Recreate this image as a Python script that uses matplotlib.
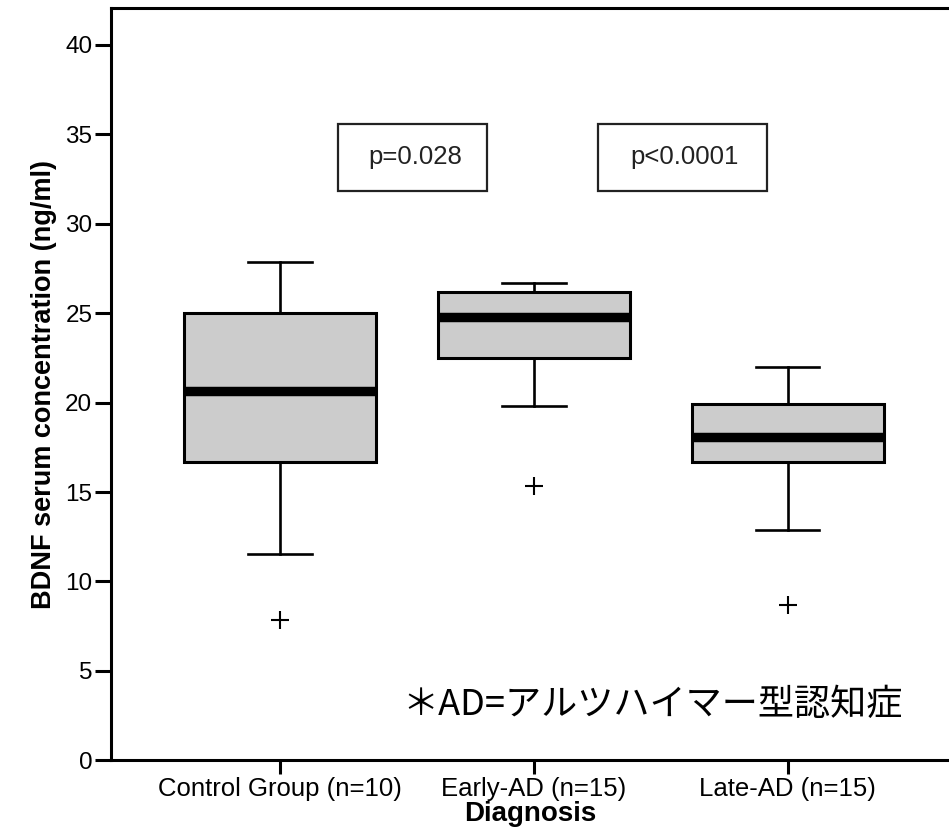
import matplotlib
matplotlib.use("Agg")
import matplotlib.pyplot as plt
from matplotlib.patches import Rectangle

plt.rcParams['font.family'] = ['Liberation Sans', 'DejaVu Sans']

# summary stats (ng/ml)
groups = ["Control Group (n=10)", "Early-AD (n=15)", "Late-AD (n=15)"]
whislo = [11.55, 19.8, 12.9]
q1 = [16.7, 22.5, 16.7]
med = [20.65, 24.8, 18.1]
q3 = [25.0, 26.2, 19.9]
whishi = [27.85, 26.7, 22.0]
fliers = [[7.85], [15.35], [8.7]]

p_labels = ["p=0.028", "p<0.0001"]
note = "＊AD=アルツハイマー型認知症"

stats = []
for i in range(len(groups)):
    stats.append(dict(label=groups[i], whislo=whislo[i], q1=q1[i], med=med[i],
                      q3=q3[i], whishi=whishi[i], fliers=fliers[i]))

fig = plt.figure(figsize=(9.49, 8.32), dpi=100)
ax = fig.add_axes([0.117, 0.086, 0.883, 0.9045])

pos = [1, 2, 3]
ax.bxp(stats, positions=pos, widths=0.756, capwidths=0.25, patch_artist=True,
       boxprops=dict(facecolor="#cccccc", edgecolor="black", linewidth=2.2),
       medianprops=dict(color="black", linewidth=6.8, solid_capstyle="butt"),
       whiskerprops=dict(color="black", linewidth=1.9),
       capprops=dict(color="black", linewidth=1.9),
       flierprops=dict(marker="+", markersize=13, markeredgewidth=1.5,
                       markeredgecolor="black"))

ax.set_xlim(0.335, 3.635)
ax.set_ylim(0, 42.05)
ax.set_yticks([0, 5, 10, 15, 20, 25, 30, 35, 40])
ax.set_xticks(pos)
ax.set_xticklabels(groups)
ax.tick_params(axis="y", length=11.5, width=2.2, pad=2, labelsize=17.5)
ax.tick_params(axis="x", length=10, width=2.2, pad=2, labelsize=18.5)
for s in ["left", "bottom", "top"]:
    ax.spines[s].set_linewidth(2.2)
ax.spines["right"].set_visible(False)

ax.set_ylabel("BDNF serum concentration (ng/ml)", fontsize=19.5, fontweight="bold", labelpad=6)
ax.set_xlabel("Diagnosis", fontsize=20, fontweight="bold", labelpad=0)

# p-value boxes
p_boxes = [(1.228, 1.815), (2.252, 2.917)]
for (x0, x1), lab in zip(p_boxes, p_labels):
    ax.add_patch(Rectangle((x0, 31.8), x1 - x0, 3.76, fill=False,
                           edgecolor="#222222", linewidth=1.6))
    ax.text((x0 + x1) / 2 + 0.01, 33.7, lab, ha="center", va="center",
            fontsize=18.5, color="#222222")

ax.text(1.484, 3.1, note, ha="left", va="center", fontsize=26,
        family=["Noto Sans CJK JP", "DejaVu Sans"])

fig.savefig("out.png", dpi=100)
